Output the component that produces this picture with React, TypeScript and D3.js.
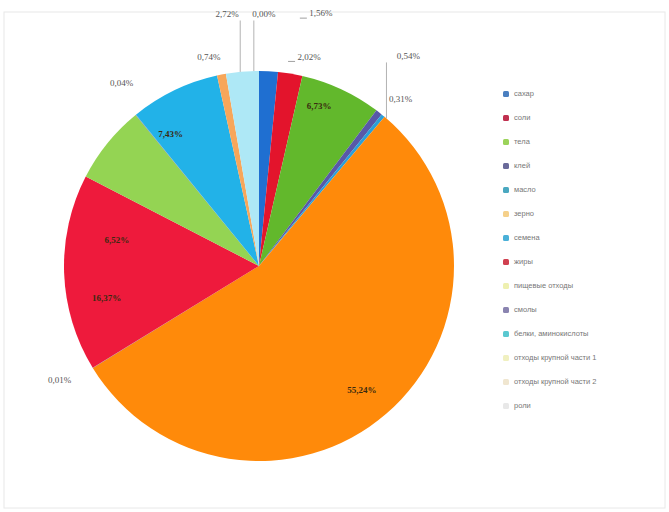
import React from "react";
import * as d3 from "d3";

const categories = [
  "сахар", "соли", "тела", "клей", "масло", "зерно", "семена",
  "жиры", "пищевые отходы", "смолы", "белки, аминокислоты",
  "отходы крупной части 1", "отходы крупной части 2", "роли",
];
const values = [1.56, 2.02, 6.73, 0.54, 0.31, 55.24, 0.01, 16.37, 6.52, 0.04, 7.43, 0.74, 2.72, 0.002];
const labels = ["1,56%", "2,02%", "6,73%", "0,54%", "0,31%", "55,24%", "0,01%", "16,37%", "6,52%", "0,04%", "7,43%", "0,74%", "2,72%", "0,00%"];
const sliceColors = [
  "#1f6fd1", "#e3142c", "#62b82c", "#5858a8", "#2b9fd8", "#ff8a0a", "#3a7fd0",
  "#ee1a3c", "#94d453", "#7a6fb0", "#22b2e8", "#f7a65a", "#aee8f6", "#f4f4c8",
];
const legendColors = [
  "#4a7fc0", "#c0304f", "#9bd35a", "#6a6a9a", "#4aa8c0", "#f5d08a", "#4ab0d8",
  "#d04050", "#eef0b0", "#8a84b0", "#5ac8d0", "#f0f0c0", "#f0e6d0", "#e8e8e8",
];
// label layout: [angle deg clockwise from top, radius factor, inside, leader kind, leader x-offset]
type Leader = "none" | "vertical" | "stub";
const labelLayout: [number, number, boolean, Leader, number][] = [
  [13.8, 1.33, false, "stub", -17], [13.5, 1.1, false, "stub", -17], [20.8, 0.87, true, "none", 0],
  [35.5, 1.32, false, "vertical", -22], [40.4, 1.12, false, "none", 0], [140.5, 0.83, true, "none", 0],
  [240.1, 1.18, false, "none", 0], [257.8, 0.8, true, "none", 0], [280, 0.74, true, "none", 0],
  [323, 1.17, false, "none", 0], [326, 0.81, true, "none", 0], [346.5, 1.1, false, "none", 0],
  [352.8, 1.3, false, "vertical", 13], [1.1, 1.29, false, "vertical", -10],
];

export default function App() {
  const W = 669, H = 512;
  const cx = 259, cy = 266, r = 195;
  const pie = d3.pie<number>().sort(null).value((d) => d)(values);
  const arc = d3.arc<d3.PieArcDatum<number>>().innerRadius(0).outerRadius(r);
  const toRad = Math.PI / 180;
  return (
    <svg width={W} height={H} style={{ position: "absolute", left: 0, top: 0, background: "#fff" }}>
      <rect x={4} y={12} width={W - 8} height={H - 16} fill="#fff" stroke="#e8e8e8" />
      <g transform={`translate(${cx},${cy})`}>
        {pie.map((p, i) => (
          <path key={i} d={arc(p) || ""} fill={sliceColors[i]} stroke="none" />
        ))}
        {pie.map((p, i) => {
          const [ang, k, inside, leader, ldx] = labelLayout[i];
          const lx = Math.sin(ang * toRad) * r * k;
          const ly = -Math.cos(ang * toRad) * r * k;
          let line = null;
          if (leader === "vertical") {
            const x = lx + ldx;
            const yEdge = -Math.sqrt(Math.max(0, r * r - x * x));
            line = <line x1={x} y1={ly + 6} x2={x} y2={yEdge} stroke="#a0a0a0" strokeWidth={0.8} />;
          } else if (leader === "stub") {
            line = <line x1={lx + ldx - 4} y1={ly + 4} x2={lx + ldx + 3} y2={ly + 4} stroke="#888" strokeWidth={0.8} />;
          }
          return (
            <g key={"l" + i}>
              {line}
              <text
                x={lx}
                y={ly}
                textAnchor="middle"
                dominantBaseline="middle"
                fontFamily="Liberation Serif, serif"
                fontSize={9}
                fontWeight={inside ? "bold" : "normal"}
                fill={inside ? "#3a2a10" : "#555"}
              >
                {labels[i]}
              </text>
            </g>
          );
        })}
      </g>
      <g>
        {categories.map((c, i) => (
          <g key={c} transform={`translate(506,${94 + i * 24})`}>
            <rect x={-3} y={-3} width={6} height={6} rx={1.5} fill={legendColors[i]} />
            <text x={8} y={0} dominantBaseline="middle" fontFamily="Liberation Sans, sans-serif" fontSize={7.5} fill="#777">
              {c}
            </text>
          </g>
        ))}
      </g>
    </svg>
  );
}
